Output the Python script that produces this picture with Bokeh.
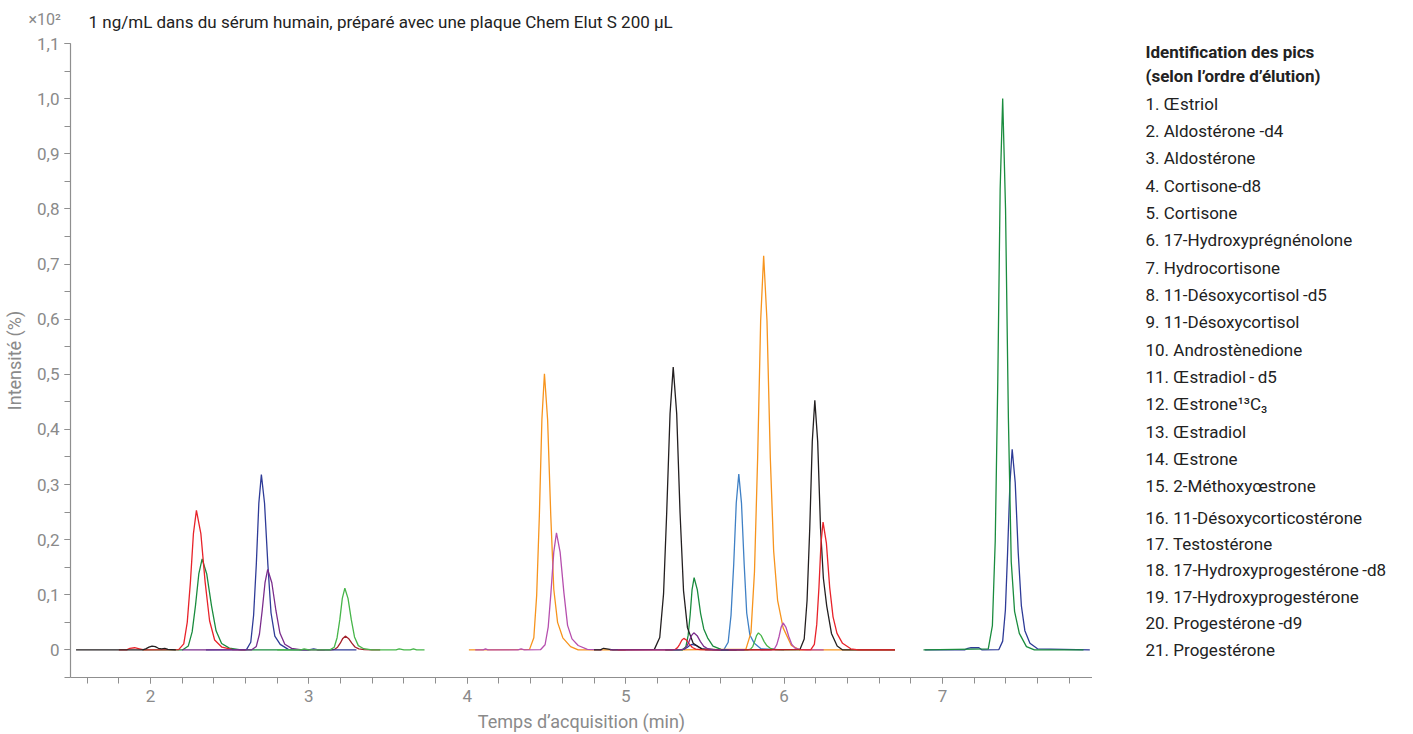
from bokeh.plotting import figure
from bokeh.layouts import column, row
from bokeh.models import Range1d, FixedTicker, CustomJSTickFormatter
from bokeh.core.properties import value
from bokeh.embed import file_html
from bokeh.resources import INLINE

FONT = "Roboto"

# ---------------- axis ticks ----------------
x_major_ticks = [2, 3, 4, 5, 6, 7]
x_minor_ticks = [1.6, 1.8, 2.0, 2.2, 2.4, 2.6, 2.8, 3.0, 3.2, 3.4, 3.6, 3.8, 4.0, 4.2, 4.4,
                 4.6, 4.8, 5.0, 5.2, 5.4, 5.6, 5.8, 6.0, 6.2, 6.4, 6.6, 6.8, 7.0, 7.2, 7.4,
                 7.6, 7.8]
y_major_ticks = [0, 0.1, 0.2, 0.3, 0.4, 0.5, 0.6, 0.7, 0.8, 0.9, 1.0, 1.1]
y_tick_labels = ["0", "0,1", "0,2", "0,3", "0,4", "0,5", "0,6", "0,7", "0,8", "0,9", "1,0", "1,1"]
y_minor_ticks = [-0.05, 0, 0.05, 0.1, 0.15, 0.2, 0.25, 0.3, 0.35, 0.4, 0.45, 0.5, 0.55, 0.6,
                 0.65, 0.7, 0.75, 0.8, 0.85, 0.9, 0.95, 1.0, 1.05, 1.1]

# ---------------- chromatogram traces (time min, intensity x10^2 %) ----------------
# segment 1
black1_t = [1.53, 1.95, 1.97, 1.99, 2.01, 2.03, 2.05, 2.07, 2.09, 2.11, 2.16]
black1_y = [0, 0, 0.002, 0.005, 0.007, 0.006, 0.003, 0.002, 0.003, 0.001, 0]

red1_t = [1.80, 1.85, 1.87, 1.90, 1.93, 1.96, 2.178, 2.21, 2.232, 2.252, 2.271, 2.29, 2.318,
          2.345, 2.373, 2.405, 2.451, 2.52, 2.60]
red1_y = [0, 0, 0.003, 0.004, 0.002, 0, 0.0005, 0.011, 0.050, 0.123, 0.211, 0.253, 0.211,
          0.123, 0.053, 0.018, 0.005, 0.0005, 0]

green1_t = [1.95, 2.204, 2.239, 2.263, 2.284, 2.305, 2.326, 2.355, 2.385, 2.414, 2.449, 2.498,
            2.571, 3.0]
green1_y = [0, 0.0003, 0.0073, 0.0327, 0.0804, 0.1378, 0.165, 0.1378, 0.0804, 0.0347, 0.0116,
            0.0033, 0.0003, 0]

navy1_t = [2.35, 2.606, 2.633, 2.651, 2.668, 2.684, 2.70, 2.720, 2.741, 2.761, 2.785, 2.819,
           2.87, 3.00, 3.03, 3.06, 3.30]
navy1_y = [0, 0.0006, 0.014, 0.063, 0.155, 0.266, 0.318, 0.266, 0.155, 0.067, 0.025, 0.010,
           0.001, 0, 0.002, 0, 0]

purple1_t = [2.20, 2.639, 2.668, 2.688, 2.705, 2.723, 2.74, 2.766, 2.792, 2.817, 2.848, 2.891,
             2.955, 3.10]
purple1_y = [0, 0.0003, 0.0064, 0.0289, 0.0711, 0.1219, 0.146, 0.1219, 0.0711, 0.0307, 0.0102,
             0.0029, 0.0003, 0]

lgreen1_t = [2.80, 2.95, 2.97, 3.00, 3.133, 3.160, 3.178, 3.195, 3.211, 3.227, 3.247, 3.268,
             3.288, 3.312, 3.346, 3.397, 3.55, 3.57, 3.60, 3.64, 3.66, 3.68, 3.73]
lgreen1_y = [0, 0, 0.002, 0, 0.0002, 0.0049, 0.0222, 0.0545, 0.0935, 0.112, 0.0935, 0.0545,
             0.0235, 0.0078, 0.0022, 0.0002, 0, 0.002, 0, 0, 0.002, 0, 0]

maroon1_t = [3.05, 3.136, 3.163, 3.181, 3.198, 3.214, 3.23, 3.250, 3.271, 3.291, 3.315, 3.349,
             3.40, 3.45]
maroon1_y = [0, 0, 0.0011, 0.005, 0.0122, 0.0209, 0.025, 0.0209, 0.0122, 0.0053, 0.0018,
             0.0005, 0, 0]

# segment 2
orange1_t = [4.01, 4.393, 4.420, 4.438, 4.455, 4.471, 4.487, 4.507, 4.527, 4.546, 4.570, 4.603,
             4.652, 4.70, 5.00]
orange1_y = [0, 0.001, 0.022, 0.099, 0.244, 0.418, 0.501, 0.418, 0.244, 0.110, 0.050, 0.022,
             0.006, 0, 0]

magenta1_t = [4.05, 4.10, 4.115, 4.13, 4.32, 4.34, 4.36, 4.462, 4.491, 4.511, 4.528, 4.546,
              4.563, 4.586, 4.610, 4.633, 4.661, 4.700, 4.758, 4.85]
magenta1_y = [0, 0, 0.002, 0, 0, 0.002, 0, 0.0004, 0.0094, 0.042, 0.1035, 0.1774, 0.2125,
              0.1774, 0.1035, 0.0446, 0.020, 0.008, 0.001, 0]

black2_t = [4.80, 4.84, 4.86, 4.88, 4.92, 5.181, 5.215, 5.239, 5.259, 5.280, 5.30, 5.322, 5.343,
            5.365, 5.390, 5.426, 5.48, 5.60]
black2_y = [0, 0, 0.003, 0.002, 0, 0.001, 0.0226, 0.1016, 0.2498, 0.4284, 0.513, 0.4284,
            0.2498, 0.1077, 0.040, 0.012, 0.002, 0]

redS_t = [4.95, 5.290, 5.312, 5.327, 5.341, 5.354, 5.367, 5.385, 5.403, 5.421, 5.442, 5.472,
          5.517, 5.60]
redS_y = [0, 0, 0.0009, 0.0042, 0.0102, 0.0175, 0.021, 0.0175, 0.0102, 0.0044, 0.0015, 0.0004,
          0, 0]

green2_t = [5.25, 5.359, 5.380, 5.394, 5.407, 5.419, 5.432, 5.452, 5.473, 5.493, 5.517, 5.551,
            5.602, 5.70]
green2_y = [0, 0.0003, 0.0058, 0.0259, 0.0638, 0.1094, 0.131, 0.1094, 0.0660, 0.038, 0.022,
            0.007, 0.001, 0]

purple2_t = [4.90, 5.343, 5.368, 5.385, 5.400, 5.415, 5.43, 5.451, 5.472, 5.493, 5.518, 5.553,
             5.605, 5.75]
purple2_y = [0, 0.0001, 0.0014, 0.0061, 0.0151, 0.0259, 0.031, 0.0259, 0.0151, 0.0065, 0.0022,
             0.0006, 0, 0]

navy2_t = [5.25, 5.333, 5.358, 5.375, 5.390, 5.405, 5.42, 5.441, 5.462, 5.483, 5.508, 5.543,
           5.595, 5.70]
navy2_y = [0, 0, 0.0004, 0.002, 0.0049, 0.0084, 0.010, 0.0084, 0.0049, 0.0021, 0.0007, 0.0002,
           0, 0]

steel_t = [5.50, 5.620, 5.647, 5.665, 5.682, 5.698, 5.714, 5.731, 5.748, 5.764, 5.784, 5.812,
           5.854, 6.00]
steel_y = [0, 0.0006, 0.014, 0.0632, 0.1554, 0.2664, 0.319, 0.2664, 0.1554, 0.067, 0.027,
           0.012, 0.002, 0]

orange2_t = [5.35, 5.759, 5.791, 5.813, 5.833, 5.852, 5.871, 5.892, 5.913, 5.934, 5.959, 5.994,
             6.046, 6.10, 6.70]
orange2_y = [0, 0.0014, 0.0315, 0.1416, 0.3482, 0.597, 0.715, 0.597, 0.3482, 0.18, 0.09, 0.04,
             0.008, 0, 0]

lgreen2_t = [5.60, 5.768, 5.788, 5.802, 5.814, 5.826, 5.838, 5.856, 5.874, 5.892, 5.913, 5.943,
             5.988, 6.10]
lgreen2_y = [0, 0, 0.0014, 0.0061, 0.0151, 0.0259, 0.031, 0.0259, 0.0151, 0.0075, 0.003,
             0.0008, 0, 0]

magenta2_t = [5.85, 5.917, 5.939, 5.954, 5.968, 5.981, 5.994, 6.012, 6.030, 6.048, 6.069,
              6.099, 6.144, 6.25]
magenta2_y = [0, 0.0001, 0.0022, 0.0097, 0.0239, 0.0409, 0.049, 0.0409, 0.0239, 0.0103, 0.0034,
              0.001, 0, 0]

black3_t = [5.60, 6.100, 6.127, 6.145, 6.162, 6.178, 6.194, 6.212, 6.230, 6.248, 6.269, 6.299,
            6.335, 6.37, 6.70]
black3_y = [0, 0.0009, 0.0199, 0.0897, 0.2206, 0.3783, 0.453, 0.3783, 0.2206, 0.13, 0.08, 0.03,
            0.007, 0, 0]

red3_t = [5.65, 6.169, 6.191, 6.206, 6.220, 6.233, 6.246, 6.267, 6.288, 6.309, 6.334, 6.369,
          6.421, 6.47, 6.70]
red3_y = [0, 0.0005, 0.0102, 0.0459, 0.113, 0.1937, 0.232, 0.1937, 0.113, 0.06, 0.03, 0.012,
          0.002, 0, 0]

# segment 3
navy3_t = [6.89, 7.14, 7.16, 7.18, 7.23, 7.25, 7.356, 7.380, 7.397, 7.411, 7.426, 7.44, 7.459,
           7.478, 7.498, 7.52, 7.552, 7.60, 7.93]
navy3_y = [0, 0, 0.003, 0.004, 0.004, 0, 0.0007, 0.016, 0.072, 0.177, 0.304, 0.364, 0.304,
           0.177, 0.08, 0.035, 0.012, 0.002, 0]

green3_t = [6.88, 7.289, 7.315, 7.333, 7.349, 7.364, 7.38, 7.398, 7.416, 7.434, 7.455, 7.485,
            7.53, 7.58, 7.89]
green3_y = [0, 0.002, 0.044, 0.198, 0.487, 0.835, 1.0, 0.80, 0.42, 0.16, 0.07, 0.03, 0.006, 0, 0]

# ---------------- legend / title text ----------------
legend_header = ["Identification des pics", "(selon l\u2019ordre d\u2019\u00e9lution)"]
legend_items = [
    "1. \u0152striol",
    "2. Aldost\u00e9rone -d4",
    "3. Aldost\u00e9rone",
    "4. Cortisone-d8",
    "5. Cortisone",
    "6. 17-Hydroxypr\u00e9gn\u00e9nolone",
    "7. Hydrocortisone",
    "8. 11-D\u00e9soxycortisol\u2009-d5",
    "9. 11-D\u00e9soxycortisol",
    "10. Androst\u00e8nedione",
    "11. \u0152stradiol\u2009-\u2009d5",
    "12. \u0152strone\u00b9\u00b3C\u2083",
    "13. \u0152stradiol",
    "14. \u0152strone",
    "15. 2-M\u00e9thoxy\u0153strone",
    "16. 11-D\u00e9soxycorticost\u00e9rone",
    "17. Testost\u00e9rone",
    "18. 17-Hydroxyprogest\u00e9rone\u2009-d8",
    "19. 17-Hydroxyprogest\u00e9rone",
    "20. Progest\u00e9rone\u2009-d9",
    "21. Progest\u00e9rone",
]
title_text = "1 ng/mL dans du s\u00e9rum humain, pr\u00e9par\u00e9 avec une plaque Chem Elut S 200 \u00b5L"
scale_text = "\u00d710\u00b2"

# ---------------- colours ----------------
C_BLACK = "#231f20"
C_RED = "#e8232a"
C_DGREEN = "#1a8c3e"
C_NAVY = "#2e3b97"
C_PURPLE = "#7a2c8c"
C_LGREEN = "#46b549"
C_MAROON = "#a3202b"
C_ORANGE = "#f7941d"
C_MAGENTA = "#b64fae"
C_STEEL = "#3f80c5"

traces = [
    (green1_t, green1_y, C_DGREEN),
    (red1_t, red1_y, C_RED),
    (black1_t, black1_y, C_BLACK),
    (maroon1_t, maroon1_y, C_MAROON),
    (navy1_t, navy1_y, C_NAVY),
    (purple1_t, purple1_y, C_PURPLE),
    (lgreen1_t, lgreen1_y, C_LGREEN),
    (steel_t, steel_y, C_STEEL),
    (orange2_t, orange2_y, C_ORANGE),
    (lgreen2_t, lgreen2_y, C_LGREEN),
    (magenta2_t, magenta2_y, C_MAGENTA),
    (navy2_t, navy2_y, C_NAVY),
    (green2_t, green2_y, C_DGREEN),
    (black3_t, black3_y, C_BLACK),
    (red3_t, red3_y, C_RED),
    (orange1_t, orange1_y, C_ORANGE),
    (magenta1_t, magenta1_y, C_MAGENTA),
    (black2_t, black2_y, C_BLACK),
    (redS_t, redS_y, C_RED),
    (purple2_t, purple2_y, C_PURPLE),
    (navy3_t, navy3_y, C_NAVY),
    (green3_t, green3_y, C_DGREEN),
]

# ---------------- layout geometry (page pixels) ----------------
W, H = 1413, 734
TOP_H = 32                 # height of the strip holding the title
FL, FR, FT, FB = 70, 1092, 43, 677   # plot frame edges on the page

TEXT_DARK = "#222222"
AX = "#8f8f8f"
LBL = "#8a8a8a"


def text_fig(width, height, x0, x1, y0, y1, **borders):
    f = figure(width=width, height=height, output_backend="svg", toolbar_location=None,
               x_range=Range1d(x0, x1), y_range=Range1d(y0, y1),
               x_axis_type=None, y_axis_type=None, **borders)
    f.outline_line_color = None
    f.grid.visible = False
    f.border_fill_color = "white"
    f.background_fill_color = "white"
    return f


# --- top strip: title and scale factor (page pixel coordinates, y downward)
top = text_fig(W, TOP_H, 0, W, TOP_H, 0, min_border=0)
top.text(x=[88], y=[21.5], text=[title_text], text_font=value(FONT), text_font_size="17px",
         text_color=TEXT_DARK, text_baseline="middle", text_align="left")
top.text(x=[28], y=[19], text=[scale_text], text_font=value(FONT), text_font_size="16px",
         text_color=LBL, text_baseline="middle", text_align="left")

# --- main chromatogram
p = figure(width=FR, height=H - TOP_H, output_backend="svg", toolbar_location=None,
           x_range=Range1d(1.495, 7.947), y_range=Range1d(-0.05, 1.1),
           min_border_left=FL, min_border_right=0, min_border_top=FT - TOP_H,
           min_border_bottom=H - FB)
p.outline_line_color = None
p.grid.visible = False
p.background_fill_color = "white"
p.border_fill_color = "white"

for t, y, c in traces:
    p.line(t, y, line_color=c, line_width=1.3)

for ax in (p.xaxis[0], p.yaxis[0]):
    ax.axis_line_color = AX
    ax.axis_line_width = 1.2
    ax.major_tick_line_color = AX
    ax.minor_tick_line_color = AX
    ax.major_tick_in = 0
    ax.minor_tick_in = 0
    ax.major_tick_out = 6
    ax.minor_tick_out = 6
    ax.major_label_text_font = FONT
    ax.major_label_text_font_size = "17px"
    ax.major_label_text_color = LBL
    ax.axis_label_text_font = FONT
    ax.axis_label_text_font_size = "18px"
    ax.axis_label_text_font_style = "normal"
    ax.axis_label_text_color = LBL

p.xaxis[0].major_label_standoff = 6
p.yaxis[0].major_label_standoff = 5
p.xaxis[0].ticker = FixedTicker(ticks=x_major_ticks, minor_ticks=x_minor_ticks)
p.yaxis[0].ticker = FixedTicker(ticks=y_major_ticks, minor_ticks=y_minor_ticks)
p.yaxis[0].formatter = CustomJSTickFormatter(
    args=dict(tvals=y_major_ticks, tlabels=y_tick_labels),
    code="const i = tvals.findIndex(v => Math.abs(v - tick) < 1e-6); return i >= 0 ? tlabels[i] : '';")
p.xaxis[0].axis_label = "Temps d\u2019acquisition (min)"
p.yaxis[0].axis_label = "Intensit\u00e9 (%)"
p.xaxis[0].axis_label_standoff = 6
p.yaxis[0].axis_label_standoff = 9

# --- legend column: same vertical borders as the chart, page pixel coordinates (y downward)
leg = text_fig(W - FR, H - TOP_H, FR, W, FB, FT,
               min_border_left=0, min_border_right=0,
               min_border_top=FT - TOP_H, min_border_bottom=H - FB)
LX = 1145
leg.text(x=[LX, LX], y=[51.5, 75], text=legend_header, text_font=value(FONT),
         text_font_size="17px", text_font_style="bold", text_color=TEXT_DARK,
         text_baseline="middle", text_align="left")
item_y = [103 + i * 27.35 if i < 15 else 517 + (i - 15) * 26.4 for i in range(len(legend_items))]
leg.text(x=[LX] * len(legend_items), y=item_y, text=legend_items, text_font=value(FONT),
         text_font_size="17px", text_color=TEXT_DARK, text_baseline="middle", text_align="left")

layout = column(top, row(p, leg, spacing=0), spacing=0)
open("out.html", "w").write(file_html(layout, INLINE))
